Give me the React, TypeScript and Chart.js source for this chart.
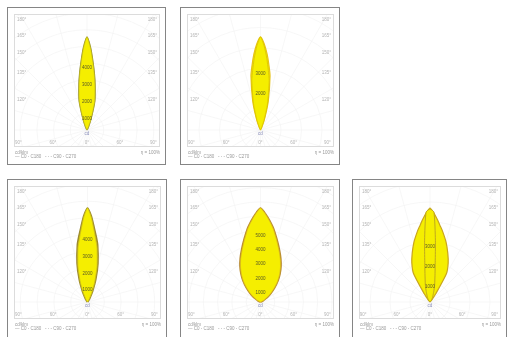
import React, { useEffect, useRef } from "react";
import { Chart, registerables } from "chart.js";

Chart.register(...registerables);

// Polar angles (degrees from the beam axis), symmetric curves
const ANGLES = [0, 2.5, 5, 7.5, 10, 15, 20, 25, 30, 35, 40, 45, 50, 55, 60, 65, 70, 75, 80, 85, 90];

// Luminous intensity values (cd)
const P1_C0 = [5570, 4930, 4100, 3400, 2780, 1820, 720, 220, 40, 0, 0, 0, 0, 0, 0, 0, 0, 0, 0, 0, 0];
const P1_C90 = [5570, 4900, 4050, 3350, 2730, 1780, 690, 200, 30, 0, 0, 0, 0, 0, 0, 0, 0, 0, 0, 0, 0];

const P2_C0 = [4540, 4200, 3710, 3170, 2680, 1460, 590, 150, 0, 0, 0, 0, 0, 0, 0, 0, 0, 0, 0, 0, 0];
const P2_C90 = [4540, 4100, 3510, 2930, 2440, 1320, 490, 100, 0, 0, 0, 0, 0, 0, 0, 0, 0, 0, 0, 0, 0];

const P3_C0 = [5590, 5120, 4460, 3930, 3450, 2380, 1430, 710, 300, 120, 0, 0, 0, 0, 0, 0, 0, 0, 0, 0, 0];
const P3_C90 = [5590, 5060, 4340, 3750, 3270, 2200, 1250, 600, 240, 90, 0, 0, 0, 0, 0, 0, 0, 0, 0, 0, 0];

const P4_C0 = [6570, 6290, 5940, 5590, 5240, 4500, 3880, 3360, 2870, 2380, 1890, 1400, 980, 630, 350, 210, 70, 0, 0, 0, 0];
const P4_C90 = [6570, 6260, 5900, 5540, 5180, 4420, 3800, 3280, 2790, 2310, 1830, 1350, 940, 600, 330, 190, 60, 0, 0, 0, 0];

const P5_C0 = [4700, 4450, 4150, 3850, 3600, 3100, 2600, 2150, 1650, 500, 150, 0, 0, 0, 0, 0, 0, 0, 0, 0, 0];
const P5_C90 = [4650, 4500, 3100, 2000, 1450, 900, 550, 350, 250, 150, 100, 50, 0, 0, 0, 0, 0, 0, 0, 0, 0];

// Text labels
const LEFT_LABELS = ["180°", "165°", "150°", "135°", "120°"];
const BOTTOM_LABELS = ["90°", "60°", "0°", "60°", "90°"];
const RING_LABELS = ["1000", "2000", "3000", "4000", "5000", "6000"];
const UNIT_LABEL = "cd";
const LEGEND_TOP = "cd/klm";
const LEGEND_BOTTOM = "— C0 - C180   - - - C90 - C270";
const LEGEND_RIGHT = "η = 100%";

type Panel = {
  left: number;
  top: number;
  w: number;
  h: number;
  c0: number[];
  c90: number[];
  ringStep: number;
  pxPerRing: number;
  ringsLabelled: number[];
  fill: string;
  c0Border: string;
  c0Width: number;
  c90Border: string;
  c90Width: number;
};

const PANELS: Panel[] = [
  { left: 7, top: 7, w: 159, h: 158, c0: P1_C0, c90: P1_C90, ringStep: 1000, pxPerRing: 16.7, ringsLabelled: [1, 2, 3, 4], fill: "#f5ee00", c0Border: "#8f8a2c", c0Width: 1.3, c90Border: "#c9c020", c90Width: 0.7 },
  { left: 180, top: 7, w: 160, h: 158, c0: P2_C0, c90: P2_C90, ringStep: 1000, pxPerRing: 20.5, ringsLabelled: [2, 3], fill: "#f5ee00", c0Border: "#e6c21a", c0Width: 1.2, c90Border: "#d9c400", c90Width: 0.8 },
  { left: 7, top: 179, w: 160, h: 160, c0: P3_C0, c90: P3_C90, ringStep: 1000, pxPerRing: 16.8, ringsLabelled: [1, 2, 3, 4], fill: "#f5ee00", c0Border: "#9c8a2e", c0Width: 1.8, c90Border: "#cdbf1a", c90Width: 0.8 },
  { left: 180, top: 179, w: 160, h: 160, c0: P4_C0, c90: P4_C90, ringStep: 1000, pxPerRing: 14.3, ringsLabelled: [1, 2, 3, 4, 5], fill: "#f5ee00", c0Border: "#b88a30", c0Width: 1.6, c90Border: "#d8b820", c90Width: 0.7 },
  { left: 352, top: 179, w: 155, h: 160, c0: P5_C0, c90: P5_C90, ringStep: 1000, pxPerRing: 20, ringsLabelled: [1, 2, 3], fill: "#f5ee00", c0Border: "#c9a51c", c0Width: 1.2, c90Border: "#b9a020", c90Width: 0.9 },
];

const FONT = "'Liberation Sans', Arial, sans-serif";

function curvePoints(vals: number[]) {
  const pts: { x: number; y: number }[] = [];
  for (let i = ANGLES.length - 1; i >= 0; i--) {
    const a = (-ANGLES[i] * Math.PI) / 180;
    pts.push({ x: vals[i] * Math.sin(a), y: vals[i] * Math.cos(a) });
  }
  for (let i = 1; i < ANGLES.length; i++) {
    const a = (ANGLES[i] * Math.PI) / 180;
    pts.push({ x: vals[i] * Math.sin(a), y: vals[i] * Math.cos(a) });
  }
  return pts;
}

function PanelChart({ p }: { p: Panel }) {
  const ref = useRef<HTMLCanvasElement | null>(null);
  const cw = p.w - 2;
  const chh = p.h - 2;

  useEffect(() => {
    if (!ref.current) return;
    const cdPerPx = p.ringStep / p.pxPerRing;
    const areaW = p.w - 13;
    const padBottom = chh - 139;
    const halfX = (areaW / 2) * cdPerPx;

    const plugin = {
      id: "ldcDecor",
      beforeDatasetsDraw(chart: any) {
        const { ctx, chartArea: ca, scales } = chart;
        const xs = scales.x;
        const ys = scales.y;
        const ox = xs.getPixelForValue(0);
        const oy = ys.getPixelForValue(0);
        ctx.save();
        ctx.beginPath();
        ctx.rect(ca.left, ca.top, ca.right - ca.left, ca.bottom - ca.top);
        ctx.clip();
        ctx.strokeStyle = "#f1f1f1";
        ctx.lineWidth = 0.6;
        for (let k = 1; k <= 14; k++) {
          const r = xs.getPixelForValue(k * p.ringStep) - ox;
          ctx.beginPath();
          ctx.arc(ox, oy, r, 0, Math.PI * 2);
          ctx.stroke();
        }
        ctx.strokeStyle = "#f2f2f2";
        for (let a = 0; a < 360; a += 15) {
          const rad = (a * Math.PI) / 180;
          ctx.beginPath();
          ctx.moveTo(ox, oy);
          ctx.lineTo(ox + 400 * Math.sin(rad), oy - 400 * Math.cos(rad));
          ctx.stroke();
        }
        ctx.restore();
        ctx.save();
        ctx.strokeStyle = "#dcdcdc";
        ctx.lineWidth = 1;
        ctx.strokeRect(Math.round(ca.left) + 0.5, Math.round(ca.top) + 0.5, Math.round(ca.right - ca.left) - 1, Math.round(ca.bottom - ca.top) - 1);
        ctx.restore();
      },
      afterDatasetsDraw(chart: any) {
        const { ctx, scales } = chart;
        const xs = scales.x;
        const ys = scales.y;
        const ox = xs.getPixelForValue(0);
        ctx.save();
        ctx.font = `4.5px ${FONT}`;
        ctx.textAlign = "center";
        ctx.textBaseline = "middle";
        ctx.fillStyle = "#5a5a26";
        p.ringsLabelled.forEach((k) => {
          const yy = ys.getPixelForValue(k * p.ringStep) + 5;
          ctx.fillText(RING_LABELS[k - 1], ox, yy);
        });
        ctx.fillStyle = "#8a8fbc";
        ctx.fillText(UNIT_LABEL, ox, ys.getPixelForValue(0) + 4);
        ctx.restore();
      },
      afterDraw(chart: any) {
        const { ctx, chartArea: ca } = chart;
        ctx.save();
        ctx.font = `4.5px ${FONT}`;
        ctx.fillStyle = "#b4b4b4";
        ctx.textBaseline = "middle";
        const relY = [12, 28, 45, 65, 92];
        relY.forEach((ry, i) => {
          ctx.textAlign = "left";
          ctx.fillText(LEFT_LABELS[i], ca.left + 3, ry);
          ctx.textAlign = "right";
          ctx.fillText(LEFT_LABELS[i], ca.right - 3, ry);
        });
        const fr = [0.03, 0.267, 0.5, 0.726, 0.955];
        ctx.textAlign = "center";
        fr.forEach((f, i) => {
          ctx.fillText(BOTTOM_LABELS[i], ca.left + f * (ca.right - ca.left), ca.bottom - 4);
        });
        ctx.fillStyle = "#9a9a9a";
        ctx.textAlign = "left";
        ctx.fillText(LEGEND_TOP, 7, ca.bottom + 5.5);
        ctx.fillText(LEGEND_BOTTOM, 7, ca.bottom + 9.5);
        ctx.textAlign = "right";
        ctx.fillText(LEGEND_RIGHT, ca.right, ca.bottom + 5.5);
        ctx.restore();
      },
    };

    const chart = new Chart(ref.current, {
      type: "scatter",
      data: {
        datasets: [
          {
            label: "C0 - C180",
            data: curvePoints(p.c0),
            showLine: true,
            borderColor: p.c0Border,
            borderWidth: p.c0Width,
            backgroundColor: p.fill,
            fill: "shape",
            pointRadius: 0,
            tension: 0.2,
            order: 2,
          } as any,
          {
            label: "C90 - C270",
            data: curvePoints(p.c90),
            showLine: true,
            borderColor: p.c90Border,
            borderWidth: p.c90Width,
            backgroundColor: p.fill,
            fill: "shape",
            pointRadius: 0,
            tension: 0.2,
            order: 1,
          } as any,
        ],
      },
      options: {
        responsive: false,
        animation: false,
        devicePixelRatio: 1,
        layout: { padding: { left: 6, top: 6, right: 5, bottom: padBottom } },
        scales: {
          x: { type: "linear", display: false, min: -halfX, max: halfX },
          y: { type: "linear", display: false, min: -17 * cdPerPx, max: 116 * cdPerPx },
        },
        plugins: {
          legend: { display: false },
          tooltip: { enabled: false },
          title: { display: false },
        },
        events: [],
      },
      plugins: [plugin],
    });
    return () => chart.destroy();
  }, [p]);

  return (
    <div
      style={{
        position: "absolute",
        left: p.left,
        top: p.top,
        width: p.w,
        height: p.h,
        border: "1px solid #858585",
        boxSizing: "border-box",
        background: "#ffffff",
      }}
    >
      <canvas ref={ref} width={cw} height={chh} style={{ display: "block", width: cw, height: chh }} />
    </div>
  );
}

export default function App() {
  return (
    <div style={{ position: "fixed", left: 0, top: 0, width: 508, height: 337, overflow: "hidden", background: "#ffffff" }}>
      {PANELS.map((p, i) => (
        <PanelChart key={i} p={p} />
      ))}
    </div>
  );
}
